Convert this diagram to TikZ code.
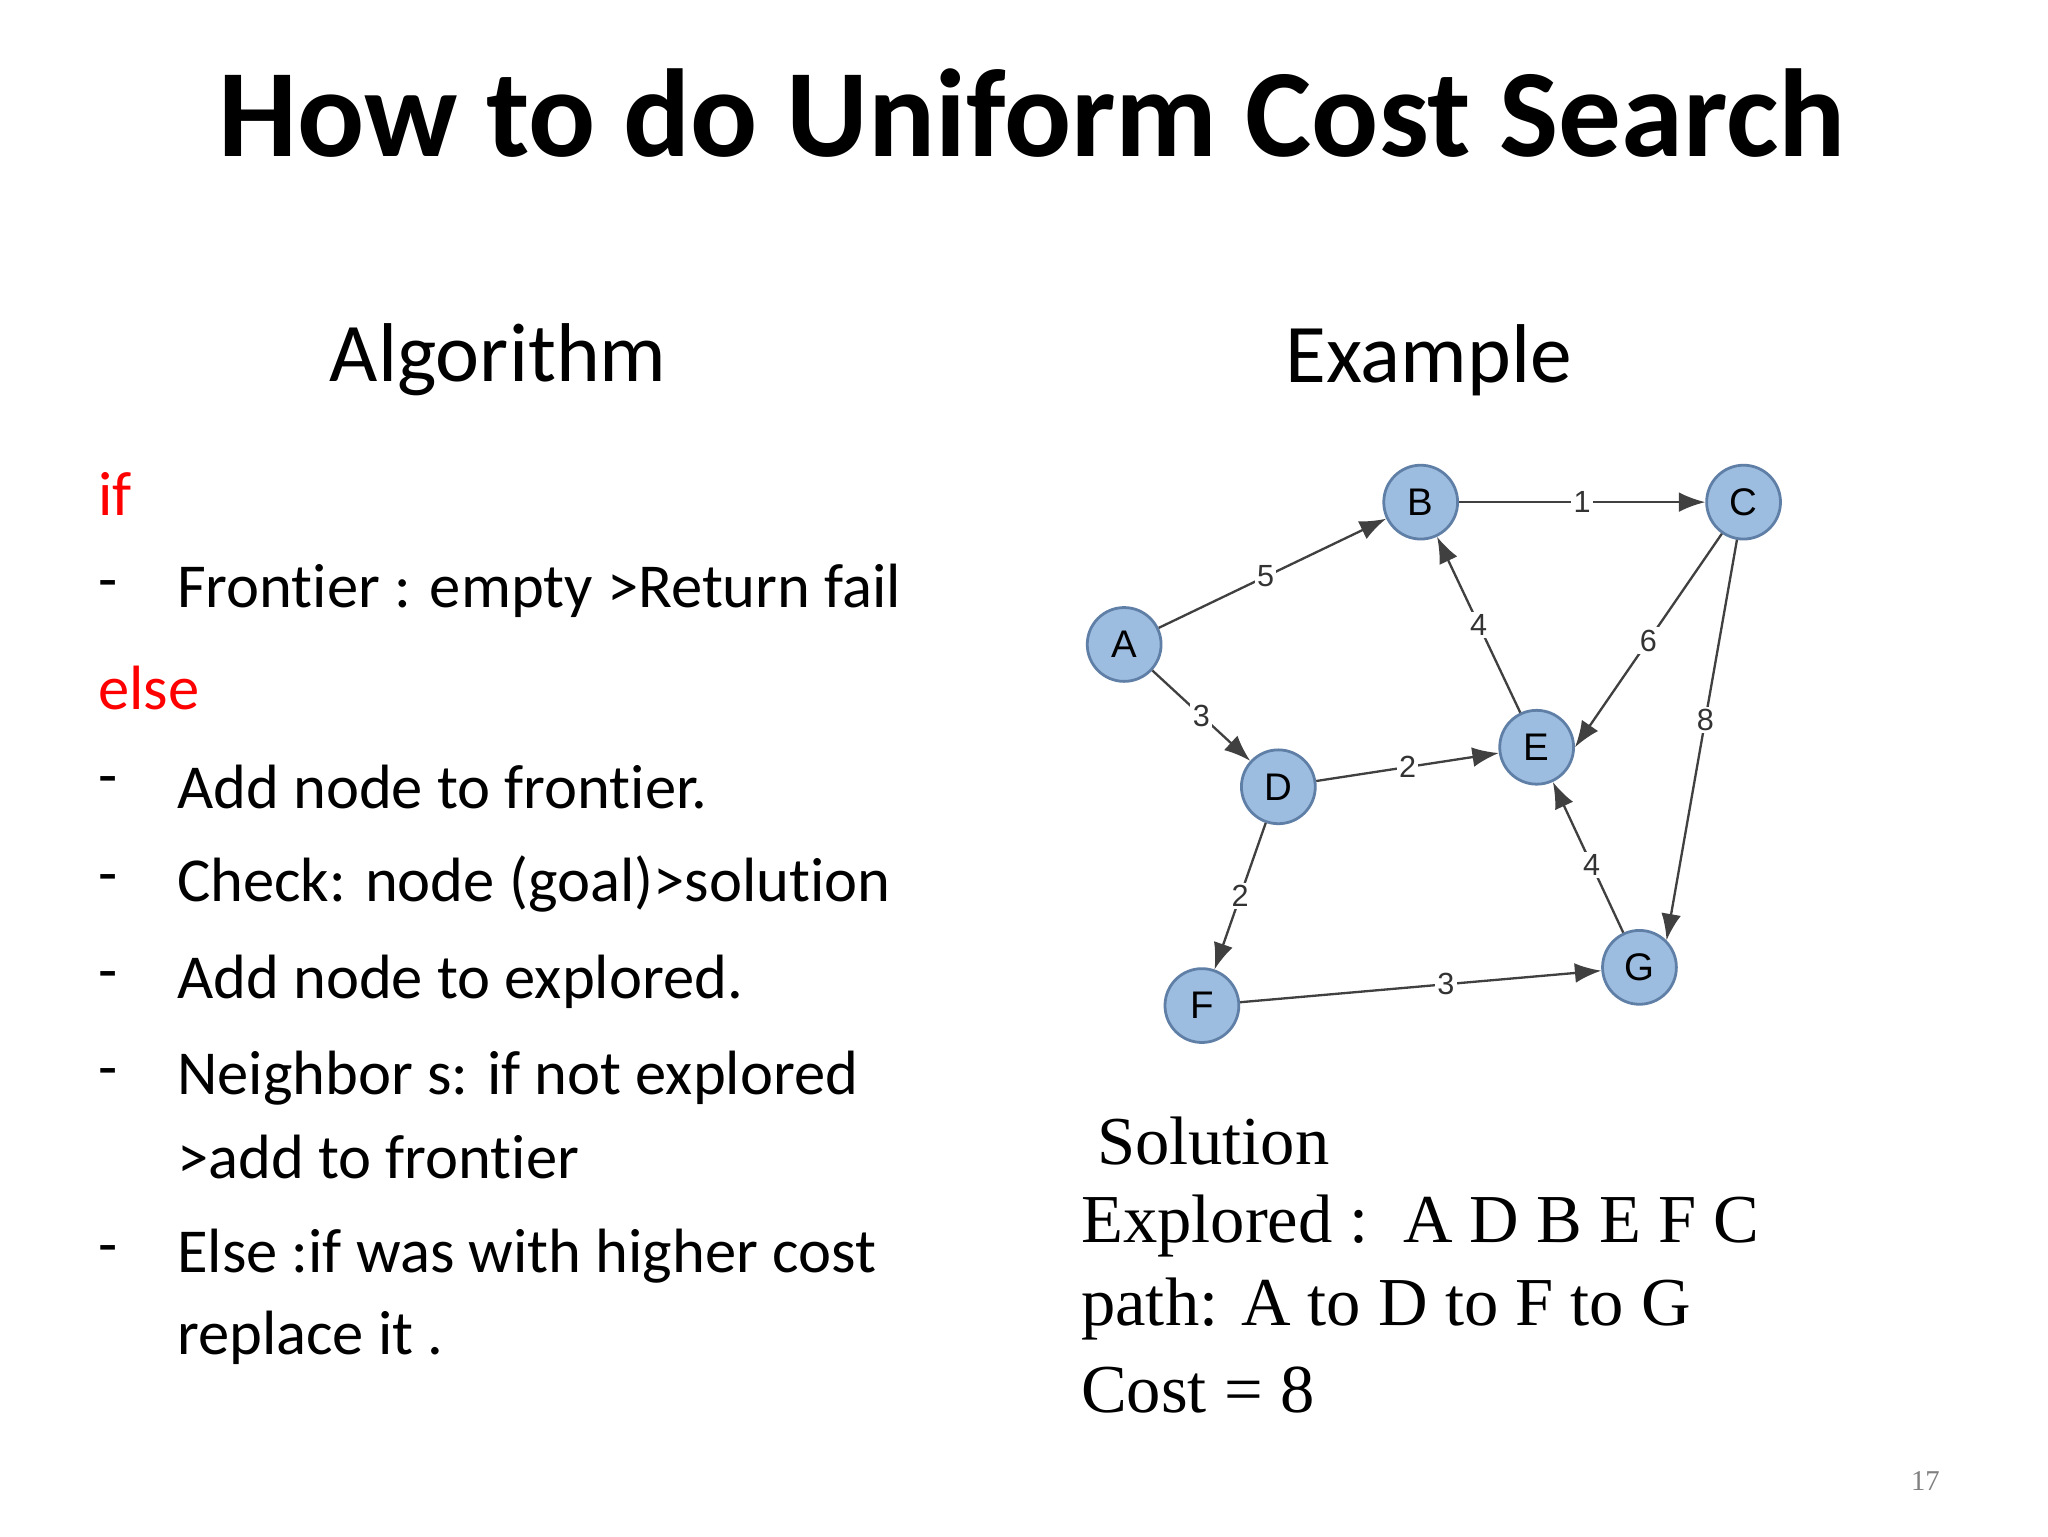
\documentclass[tikz,border=0pt]{standalone}
\usepackage{fontspec}
\setmainfont[Ligatures=NoCommon]{Carlito}
\newfontfamily\tms{Liberation Serif}
\newfontfamily\arl{Liberation Sans}
\usetikzlibrary{arrows.meta}
\definecolor{nodefill}{HTML}{9DBDE0}
\definecolor{nodeedge}{HTML}{5F7FA6}
\tikzset{
  gnode/.style={circle,minimum size=0.56cm,inner sep=0pt,fill=nodefill,draw=nodeedge,line width=0.6pt,font=\arl\fontsize{8.3}{10}\selectfont},
  gedge/.style={draw=black!75,line width=0.5pt,-{Latex[length=2mm,width=1.5mm]}},
  elab/.style={fill=white,inner sep=0.5pt,font=\arl\fontsize{6.6}{8}\selectfont,text=black!80},
  body/.style={anchor=west,font=\fontsize{13.5}{16}\selectfont},
  sol/.style={anchor=west,font=\tms\fontsize{14.8}{18}\selectfont}
}
\begin{document}
\begin{tikzpicture}[x=0.01cm,y=-0.01cm]
\fill[white] (0,0) rectangle (1554,1166);
\useasboundingbox (0,0) rectangle (1554,1166);
\node[font=\bfseries\fontsize{27}{32}\selectfont] (title) at (783,86) {How to do Uniform Cost Search};
\node[font=\fontsize{18}{22}\selectfont] (alg) at (378,273) {Algorithm};
\node[font=\fontsize{18}{22}\selectfont] (ex) at (1084,273) {Example};
% algorithm
\node[body,text=red] (if) at (62,375) {if};
\node[body,text=red] (else) at (62,522) {else};
\foreach \y/\t/\n in {448/Frontier : empty >Return fail/l1,597/Add node to frontier./l2,671/{Check: node (goal)>solution}/l3,745/Add node to explored./l4,818/Neighbor s: if not explored/l5,953/Else :if was with higher cost/l6}{
  \node[body] (d\n) at (62,\y) {-};
  \node[body] (\n) at (122,\y) {\t};
}
\node[body] (l5b) at (122,878) {>add to frontier};
\node[body] (l6b) at (122,1015) {replace it .};
% graph
\node[gnode] (A) at (853,489) {A};
\node[gnode] (B) at (1078,381) {B};
\node[gnode] (C) at (1323,381) {C};
\node[gnode] (D) at (970,597) {D};
\node[gnode] (E) at (1166,567) {E};
\node[gnode] (F) at (912,763) {F};
\node[gnode] (G) at (1244,734) {G};
\draw[gedge] (A) -- node[elab,pos=0.47]{5} (B);
\draw[gedge] (A) -- node[elab,pos=0.5]{3} (D);
\draw[gedge] (B) -- node[elab,pos=0.5]{1} (C);
\draw[gedge] (E) -- node[elab,pos=0.5]{4} (B);
\draw[gedge] (C) -- node[elab,pos=0.5]{6} (E.east);
\draw[gedge] (C) -- node[elab,pos=0.45]{8} (G.north east);
\draw[gedge] (D) -- node[elab,pos=0.5]{2} (E);
\draw[gedge] (G) -- node[elab,pos=0.45]{4} (E);
\draw[gedge] (D) -- node[elab,pos=0.5]{2} (F);
\draw[gedge] (F) -- node[elab,pos=0.57]{3} (G);
% solution
\node[sol] (s0) at (820,866) {Solution};
\node[sol] (s1) at (808,930) {Explored :\ \ A D B E F C};
\node[sol] (s2) at (808,993) {path: A to D to F to G};
\node[sol] (s3) at (808,1055) {Cost = 8};
\node[font=\tms\fontsize{6.2}{7}\selectfont,text=black!50] (pg) at (1461,1124) {17};
\end{tikzpicture}
\end{document}
